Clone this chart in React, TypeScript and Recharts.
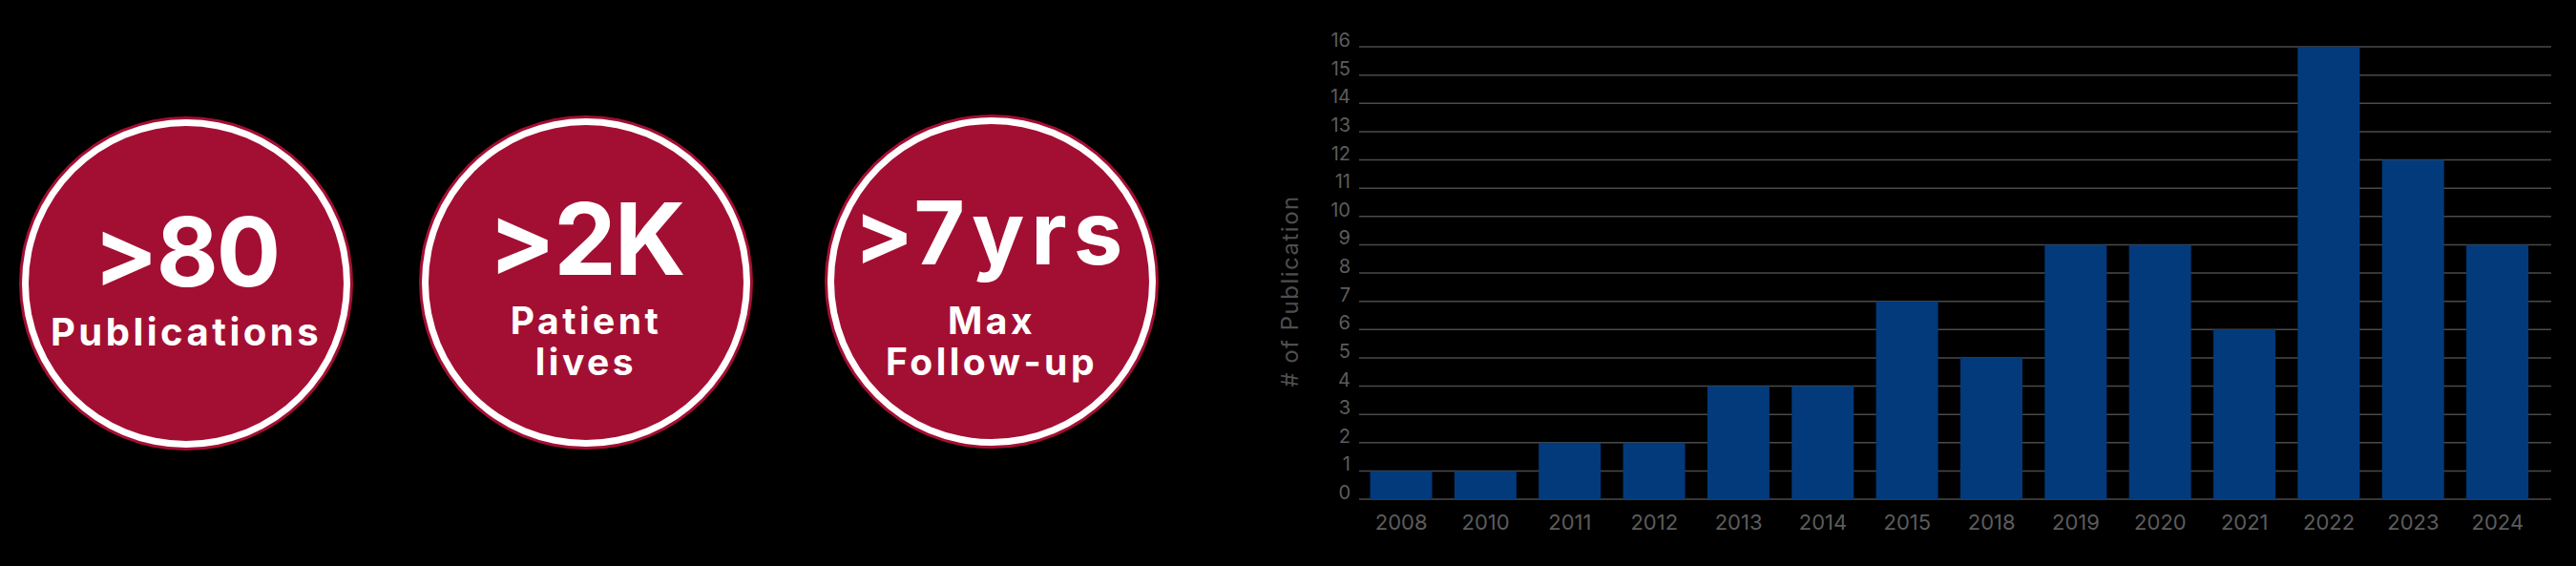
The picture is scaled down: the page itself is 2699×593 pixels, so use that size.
import { BarChart, Bar, XAxis, YAxis, CartesianGrid } from 'recharts'

const years = ['2008', '2010', '2011', '2012', '2013', '2014', '2015', '2018', '2019', '2020', '2021', '2022', '2023', '2024']
const publications = [1, 1, 2, 2, 4, 4, 7, 5, 9, 9, 6, 16, 12, 9]
const yTicks = [0, 1, 2, 3, 4, 5, 6, 7, 8, 9, 10, 11, 12, 13, 14, 15, 16]

const stats = [
  { big: '>80', lines: ['Publications'] },
  { big: '>2K', lines: ['Patient', 'lives'] },
  { big: '>7yrs', lines: ['Max', 'Follow-up'] },
]

const data = years.map((year, i) => ({ year, count: publications[i] }))

const CRIMSON = '#a30f32'
const BLUE = '#033a7b'
const GREY = '#5c5c5c'
const FONT = 'Inter, "Noto Sans", sans-serif'

// circle layout, tuned against the reference
const circles = [
  { cx: 195, cy: 297, bigY: 300, bigSize: 100, bigSpacing: -2, lineY: [362], lineSize: 40 },
  { cx: 614, cy: 296, bigY: 288, bigSize: 104, bigSpacing: -2, lineY: [350, 393], lineSize: 39 },
  { cx: 1039, cy: 295, bigY: 277, bigSize: 92, bigSpacing: 7, lineY: [350, 393], lineSize: 39 },
]

function StatCircles() {
  return (
    <svg width={1260} height={593} style={{ position: 'absolute', left: 0, top: 0 }}>
      {stats.map((s, i) => {
        const c = circles[i]
        return (
          <g key={s.big}>
            <circle cx={c.cx} cy={c.cy} r={175} fill={CRIMSON} />
            <circle cx={c.cx} cy={c.cy} r={172} fill="#ffffff" />
            <circle cx={c.cx} cy={c.cy} r={165} fill={CRIMSON} />
            <text
              x={c.cx}
              y={c.bigY}
              textAnchor="middle"
              fill="#ffffff"
              fontFamily={FONT}
              fontWeight={700}
              fontSize={c.bigSize}
              letterSpacing={c.bigSpacing}
            >
              {s.big}
            </text>
            {s.lines.map((line, j) => (
              <text
                key={line}
                x={c.cx}
                y={c.lineY[j]}
                textAnchor="middle"
                fill="#ffffff"
                fontFamily={FONT}
                fontWeight={700}
                fontSize={c.lineSize}
                letterSpacing={3.5}
              >
                {line}
              </text>
            ))}
          </g>
        )
      })}
    </svg>
  )
}

function YTick({ x, y, payload }: any) {
  return (
    <text x={x} y={y - 7} textAnchor="end" dominantBaseline="central" fill={GREY} fontFamily={FONT} fontSize={20}>
      {payload.value}
    </text>
  )
}

function XTick({ x, y, payload }: any) {
  return (
    <text x={x} y={y + 24} textAnchor="middle" dominantBaseline="central" fill={GREY} fontFamily={FONT} fontSize={22}>
      {payload.value}
    </text>
  )
}

function AxisTitle() {
  return (
    <text
      x={1351 - 1320}
      y={305}
      transform={`rotate(-90, ${1351 - 1320}, 305)`}
      textAnchor="middle"
      dominantBaseline="central"
      fill="#4e4e4e"
      fontFamily={FONT}
      fontSize={24}
      letterSpacing={1.5}
    >
      # of Publication
    </text>
  )
}

export default function App() {
  return (
    <div style={{ position: 'absolute', left: 0, top: 0, width: 2699, height: 593, background: '#000', overflow: 'hidden' }}>
      <StatCircles />
      <div style={{ position: 'absolute', left: 1320, top: 0 }}>
        <BarChart
          width={1380}
          height={593}
          data={data}
          margin={{ top: 49, right: 27, bottom: 30, left: 0 }}
          barCategoryGap="13%"
        >
          <CartesianGrid stroke="#4a4a4a" strokeWidth={1.5} vertical={false} />
          <XAxis
            dataKey="year"
            axisLine={false}
            tickLine={false}
            tickSize={0}
            tickMargin={0}
            height={40}
            interval={0}
            padding={{ left: 0, right: 12 }}
            tick={<XTick />}
          />
          <YAxis
            domain={[0, 16]}
            ticks={yTicks}
            interval={0}
            width={104}
            axisLine={false}
            tickLine={false}
            tickSize={0}
            tickMargin={9}
            tick={<YTick />}
          />
          <Bar dataKey="count" fill={BLUE} isAnimationActive={false} />
          <AxisTitle />
        </BarChart>
      </div>
    </div>
  )
}
